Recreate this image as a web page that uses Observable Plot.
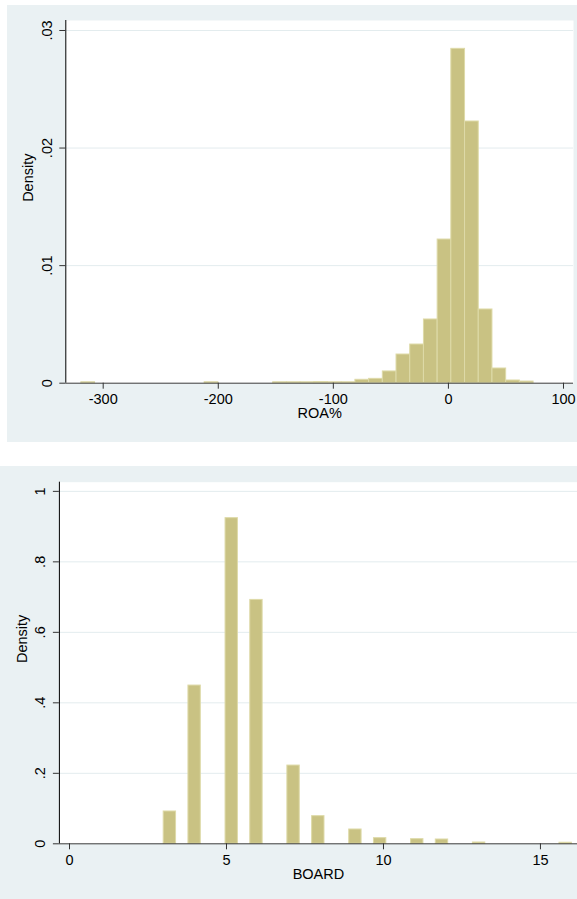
<!DOCTYPE html>
<html>
<head>
<meta charset="utf-8">
<script src="https://cdn.jsdelivr.net/npm/d3@7"></script>
<script src="https://cdn.jsdelivr.net/npm/@observablehq/plot@0.6"></script>
<style>
  html, body { margin: 0; padding: 0; background: #ffffff; }
  #wrap { position: relative; width: 577px; height: 899px; overflow: hidden; }
  .panel { position: absolute; background: #eaf1f3; }
  .panel svg { display: block; overflow: visible; }
</style>
</head>
<body>
<div id="wrap">
  <div id="p1" class="panel"></div>
  <div id="p2" class="panel"></div>
</div>
<script>
// ---------- Data: ROA% histogram (33 bins from min to max) ----------
const roaMin = -319;
const roaMax = 74;
const roaDensity = [
  0.00008, 0, 0, 0, 0, 0, 0, 0, 0, 0.00008,
  0, 0, 0, 0, 0.00008, 0.00008, 0.00008, 0.0001, 0.00008, 0.00008,
  0.00029, 0.00037, 0.00100, 0.00244, 0.00329, 0.00542, 0.01222, 0.02844, 0.02226, 0.00627,
  0.00125, 0.00023, 0.00014
];
const roaTicksX = [-300, -200, -100, 0, 100];
const roaTicksY = [0, 0.01, 0.02, 0.03];
const roaTickLabelsY = ["0", ".01", ".02", ".03"];
const roaLabel = "ROA%";

// ---------- Data: BOARD histogram (33 bins from min to max) ----------
const boardMin = 3;
const boardMax = 16;
const boardDensity = [
  0.0917, 0, 0.449, 0, 0, 0.924, 0, 0.692, 0, 0,
  0.222, 0, 0.0784, 0, 0, 0.0406, 0, 0.0160, 0, 0,
  0.0131, 0, 0.0122, 0, 0, 0.0037, 0, 0, 0, 0,
  0, 0, 0.0030
];
const boardTicksX = [0, 5, 10, 15];
const boardTicksY = [0, 0.2, 0.4, 0.6, 0.8, 1];
const boardTickLabelsY = ["0", ".2", ".4", ".6", ".8", "1"];
const boardLabel = "BOARD";

const yTitle = "Density";

function toBins(min, max, dens) {
  const w = (max - min) / dens.length;
  return dens.map((d, i) => ({x1: min + i * w, x2: min + (i + 1) * w, density: d}))
             .filter(b => b.density > 0);
}

function panel(cfg) {
  const el = document.getElementById(cfg.id);
  Object.assign(el.style, {left: cfg.left + "px", top: cfg.top + "px", width: cfg.width + "px", height: cfg.height + "px"});
  const fmtY = d => cfg.yLabels[cfg.yTicks.indexOf(d)];
  const chart = Plot.plot({
    width: cfg.width,
    height: cfg.height,
    marginLeft: cfg.mL, marginTop: cfg.mT, marginRight: cfg.mR, marginBottom: cfg.mB,
    style: {background: "transparent", fontFamily: "'Liberation Sans', Arial, sans-serif", fontSize: "14.5px", color: "#000"},
    x: {domain: cfg.xDomain},
    y: {domain: cfg.yDomain},
    marks: [
      Plot.frame({fill: "#ffffff", stroke: null}),
      Plot.ruleY(cfg.yTicks.filter(d => d > 0), {stroke: "#e3ecee", strokeWidth: 1}),
      Plot.rectY(cfg.bins, {x1: "x1", x2: "x2", y: "density", fill: "#c9c283", stroke: "#dedaa8", strokeWidth: 1}),
      Plot.ruleY([0], {stroke: "#3a3a3a", strokeWidth: 1}),
      Plot.ruleX([cfg.xDomain[0]], {stroke: "#000", strokeWidth: 1}),
      Plot.axisX({ticks: cfg.xTicks, tickSize: 6, tickPadding: 4.5, tickFormat: d => String(d), label: null, stroke: "#333", fill: "#000"}),
      Plot.axisY({ticks: cfg.yTicks, tickSize: 6, tickPadding: 8, tickRotate: -90, tickFormat: fmtY, label: null, stroke: "#333", fill: "#000"}),
      Plot.text([cfg.xLabel], {text: d => d, frameAnchor: "bottom", dy: 25, lineAnchor: "top", fill: "#000"}),
      Plot.text([yTitle], {text: d => d, frameAnchor: "left", dx: -32.5, rotate: -90, lineAnchor: "bottom", fill: "#000"})
    ]
  });
  el.appendChild(chart);
}

panel({
  id: "p1", left: 7, top: 5, width: 570, height: 437,
  mL: 58.3, mT: 15, mR: 4, mB: 59.3,
  xDomain: [-332.5, 108.7], yDomain: [0, 0.03085],
  bins: toBins(roaMin, roaMax, roaDensity),
  xTicks: roaTicksX, yTicks: roaTicksY, yLabels: roaTickLabelsY, xLabel: roaLabel
});

panel({
  id: "p2", left: 0, top: 466, width: 577, height: 433,
  mL: 58.9, mT: 15.7, mR: 0, mB: 55.7,
  xDomain: [-0.322, 16.18], yDomain: [0, 1.026],
  bins: toBins(boardMin, boardMax, boardDensity),
  xTicks: boardTicksX, yTicks: boardTicksY, yLabels: boardTickLabelsY, xLabel: boardLabel
});
</script>
</body>
</html>
